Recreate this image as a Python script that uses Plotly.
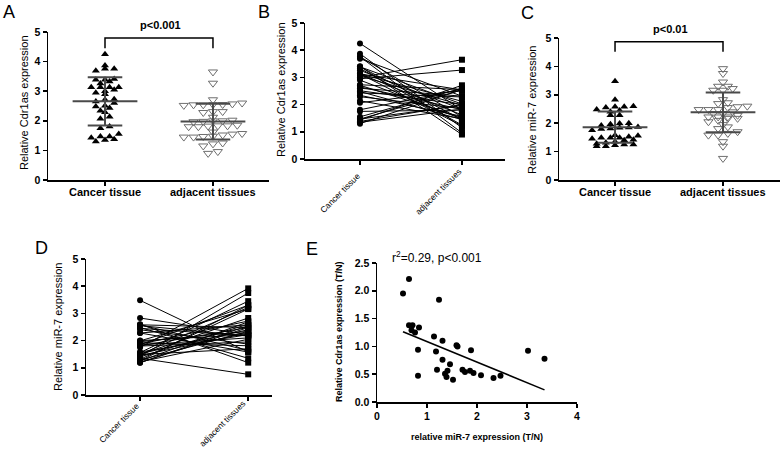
import numpy as np
import plotly.graph_objects as go

W, H = 780, 453

categories = ["Cancer tissue", "adjacent tissues"]

# Cdr1as expression, index-matched pairs (cancer[i] <-> adjacent[i])
cdr1as_cancer = [4.25, 3.87, 3.76, 3.76, 3.69, 3.41, 3.39, 3.39, 3.33, 3.26,
                 3.13, 3.13, 3.13, 3.13, 3.05, 3.00, 2.90, 2.73, 2.71, 2.65,
                 2.51, 2.48, 2.43, 2.34, 2.29, 2.60, 2.14, 2.07, 1.81, 1.75,
                 1.55, 1.47, 1.47, 1.43, 1.38, 1.35, 1.30, 2.95]
cdr1as_adjacent = [1.80, 1.15, 0.96, 1.55, 2.31, 0.90, 1.45, 2.02, 1.25, 1.83,
                   2.54, 1.62, 1.22, 2.12, 1.98, 3.65, 1.47, 2.55, 1.52, 1.82,
                   2.00, 1.45, 2.28, 1.57, 1.85, 2.31, 1.48, 2.52, 2.57, 1.80,
                   2.60, 2.54, 1.97, 2.71, 2.00, 1.83, 2.55, 3.27]

# miR-7 expression, index-matched pairs
mir7_cancer = [3.48, 2.83, 2.60, 2.58, 2.58, 2.48, 2.45, 2.40, 2.28, 2.28,
               1.99, 1.96, 1.92, 1.87, 1.85, 1.84, 1.81, 1.80, 1.75, 1.58,
               1.56, 1.52, 1.49, 1.49, 1.49, 1.45, 1.42, 1.40, 1.35, 1.31,
               1.28, 1.25, 1.25, 1.22, 1.19, 1.19, 2.55, 2.00]
mir7_adjacent = [1.58, 2.22, 1.19, 1.64, 2.48, 1.35, 2.17, 1.87, 2.58, 1.58,
                 3.16, 2.34, 1.81, 2.72, 3.30, 2.10, 2.48, 1.95, 3.92, 2.22,
                 3.45, 2.40, 2.83, 1.70, 3.22, 2.28, 3.75, 2.60, 0.76, 3.16,
                 2.34, 2.69, 3.30, 2.05, 2.48, 2.55, 2.17, 2.22]

# Panel E: T/N ratios
ratio_mir7 = [0.52, 0.64, 1.24, 0.64, 0.71, 0.69, 0.76, 0.84, 1.14, 1.31,
              0.82, 1.18, 1.59, 1.61, 1.88, 1.31, 1.46, 0.82, 1.20, 1.36,
              1.41, 1.39, 1.52, 1.71, 1.76, 1.86, 1.93, 2.08, 2.33, 2.47,
              3.02, 3.35]
ratio_cdr1as = [1.95, 2.21, 1.84, 1.38, 1.38, 1.29, 1.25, 1.34, 1.18, 1.10,
                0.94, 0.91, 1.02, 1.00, 0.93, 0.76, 0.68, 0.47, 0.58, 0.51,
                0.56, 0.45, 0.40, 0.58, 0.54, 0.56, 0.52, 0.48, 0.43, 0.47,
                0.92, 0.78]

expr_ticks = [0, 1, 2, 3, 4, 5]
e_xticks = [0, 1, 2, 3, 4]
e_yticks = [0.0, 0.5, 1.0, 1.5, 2.0, 2.5]

FONT = "Liberation Sans"


def dom_x(a, b):
    return [a / W, b / W]


def dom_y(top, bottom):
    return [1 - bottom / H, 1 - top / H]


def swarm(values, center, bin_h, step):
    v = np.asarray(values, dtype=float)
    bins = np.round(v / bin_h).astype(int)
    x = np.zeros(len(v))
    for b in np.unique(bins):
        idx = np.where(bins == b)[0]
        idx = idx[np.argsort(v[idx])]
        n = len(idx)
        x[idx] = center + (np.arange(n) - (n - 1) / 2) * step
    return x


def mean_sd_lines(values, center, mw=0.3, cw=0.16):
    v = np.asarray(values, dtype=float)
    m, s = v.mean(), v.std(ddof=1)
    xs = [center - mw, center + mw, None,
          center - cw, center + cw, None,
          center - cw, center + cw, None,
          center, center]
    ys = [m, m, None, m + s, m + s, None, m - s, m - s, None, m - s, m + s]
    return xs, ys


def pair_lines(a, b):
    xs, ys = [], []
    for va, vb in zip(a, b):
        xs += [0, 1, None]
        ys += [va, vb, None]
    return xs, ys


fig = go.Figure()

# ---------- Panel A / C: scatter with mean ± SD ----------
for ax, cancer, adj, ymax in [("", cdr1as_cancer, cdr1as_adjacent, 4.8),
                              ("3", mir7_cancer, mir7_adjacent, 4.87)]:
    xa = "x" + ax
    ya = "y" + ax
    fig.add_trace(go.Scatter(
        x=swarm(cancer, 0, 0.15, 0.085), y=cancer, mode="markers",
        marker=dict(symbol="triangle-up", size=7, color="black"),
        xaxis=xa, yaxis=ya, cliponaxis=False, showlegend=False))
    fig.add_trace(go.Scatter(
        x=swarm(adj, 1, 0.15, 0.09), y=adj, mode="markers",
        marker=dict(symbol="triangle-down-open", size=8, color="#6e6e6e",
                    line=dict(width=1, color="#6e6e6e")),
        xaxis=xa, yaxis=ya, cliponaxis=False, showlegend=False))
    for c, vals in [(0, cancer), (1, adj)]:
        xs, ys = mean_sd_lines(vals, c)
        fig.add_trace(go.Scatter(
            x=xs, y=ys, mode="lines", line=dict(color="#4a4a4a", width=2),
            xaxis=xa, yaxis=ya, cliponaxis=False, showlegend=False))
    # significance bracket
    fig.add_trace(go.Scatter(
        x=[0, 0, 1, 1], y=[ymax - 0.35, ymax, ymax, ymax - 0.35],
        mode="lines", line=dict(color="black", width=1.5),
        xaxis=xa, yaxis=ya, cliponaxis=False, showlegend=False))

# ---------- Panel B / D: paired lines ----------
for ax, cancer, adj in [("2", cdr1as_cancer, cdr1as_adjacent),
                        ("4", mir7_cancer, mir7_adjacent)]:
    xa = "x" + ax
    ya = "y" + ax
    xs, ys = pair_lines(cancer, adj)
    fig.add_trace(go.Scatter(
        x=xs, y=ys, mode="lines", line=dict(color="black", width=1),
        xaxis=xa, yaxis=ya, cliponaxis=False, showlegend=False))
    fig.add_trace(go.Scatter(
        x=[0] * len(cancer), y=cancer, mode="markers",
        marker=dict(symbol="circle", size=6, color="black"),
        xaxis=xa, yaxis=ya, cliponaxis=False, showlegend=False))
    fig.add_trace(go.Scatter(
        x=[1] * len(adj), y=adj, mode="markers",
        marker=dict(symbol="square", size=6, color="black"),
        xaxis=xa, yaxis=ya, cliponaxis=False, showlegend=False))

# ---------- Panel E: correlation ----------
ex = np.asarray(ratio_mir7)
ey = np.asarray(ratio_cdr1as)
slope, intercept = np.polyfit(ex, ey, 1)
lx = np.array([ex.min(), ex.max()])
fig.add_trace(go.Scatter(
    x=ex, y=ey, mode="markers",
    marker=dict(symbol="circle", size=6, color="black"),
    xaxis="x5", yaxis="y5", cliponaxis=False, showlegend=False))
fig.add_trace(go.Scatter(
    x=lx, y=slope * lx + intercept, mode="lines",
    line=dict(color="black", width=1.5),
    xaxis="x5", yaxis="y5", cliponaxis=False, showlegend=False))

# ---------- axes ----------
base = dict(showline=True, linecolor="black", linewidth=1.5, ticks="outside",
            ticklen=4, tickwidth=1.5, tickcolor="black", showgrid=False,
            zeroline=False, fixedrange=True, automargin=False)
numfont = dict(family=FONT, size=10.5, color="black", weight="bold")
catx = dict(tickvals=[0, 1], showticklabels=False)

layout = dict(
    width=W, height=H, margin=dict(l=0, r=0, t=0, b=0, pad=0),
    paper_bgcolor="white", plot_bgcolor="white", showlegend=False,
    hovermode=False,
    # A
    xaxis=dict(base, domain=dom_x(48, 269), range=[-0.528, 1.519], anchor="y", **catx),
    yaxis=dict(base, domain=dom_y(32, 180), range=[0, 5], anchor="x",
               tickvals=expr_ticks, tickfont=numfont),
    # B
    xaxis2=dict(base, domain=dom_x(305, 505), range=[-0.539, 1.422], anchor="y2", **catx),
    yaxis2=dict(base, domain=dom_y(23, 159), range=[0, 5], anchor="x2",
                tickvals=expr_ticks, tickfont=numfont),
    # C
    xaxis3=dict(base, domain=dom_x(559, 780), range=[-0.519, 1.528], anchor="y3", **catx),
    yaxis3=dict(base, domain=dom_y(38, 180), range=[0, 5], anchor="x3",
                tickvals=expr_ticks, tickfont=numfont),
    # D
    xaxis4=dict(base, domain=dom_x(86, 272), range=[-0.5, 1.22], anchor="y4", **catx),
    yaxis4=dict(base, domain=dom_y(259, 395), range=[0, 5], anchor="x4",
                tickvals=expr_ticks, tickfont=numfont),
    # E
    xaxis5=dict(base, domain=dom_x(377, 577), range=[0, 4], anchor="y5",
                tickvals=e_xticks, tickfont=numfont),
    yaxis5=dict(base, domain=dom_y(263, 402), range=[0, 2.5], anchor="x5",
                tickvals=e_yticks, tickformat=".1f", tickfont=numfont),
)
fig.update_layout(**layout)


def ann(text, x, y, size, angle=0, bold=False, xanchor="center", yanchor="middle"):
    fig.add_annotation(
        text=text, x=x / W, y=1 - y / H, xref="paper", yref="paper",
        showarrow=False, textangle=angle, xanchor=xanchor, yanchor=yanchor,
        font=dict(family=FONT, size=size, color="black",
                  weight="bold" if bold else "normal"))


# panel letters
for letter, x, y in [("A", 9, 0), ("B", 264, 0), ("C", 527, 1),
                     ("D", 41, 236), ("E", 312, 237)]:
    ann(letter, x, y, 18, yanchor="top")

# category labels (A, C horizontal; B, D rotated)
for xs_, y_ in [((105, 213), 192), ((615, 723), 192)]:
    for cat, xc in zip(categories, xs_):
        ann(cat, xc, y_, 11, bold=True)
for (xc0, yc0), (xc1, yc1) in [((340, 193), (438, 192)), ((119, 423), (222, 424))]:
    ann(categories[0], xc0, yc0, 8.5, angle=-45)
    ann(categories[1], xc1, yc1, 8.5, angle=-45)

# y-axis titles
ann("Relative Cdr1as expression", 24, 103, 11, angle=-90)
ann("Relative Cdr1as expression", 281, 90, 11, angle=-90)
ann("Relative miR-7 expression", 532, 110, 11, angle=-90)
ann("Relative miR-7 expression", 58, 327, 11, angle=-90)
ann("Relative Cdr1as expression (T/N)", 339, 332, 9, angle=-90, bold=True)
ann("relative miR-7 expression (T/N)", 477, 437, 9, bold=True)

# significance labels
ann("p<0.001", 160, 25, 11, bold=True)
ann("p<0.01", 670, 29, 11, bold=True)
ann("r<sup>2</sup>=0.29, p<0.001", 390, 257, 12, xanchor="left")

fig.write_html("out.html",
               config={"displayModeBar": False, "staticPlot": True},
               post_script="document.body.style.margin='0';"
                           "document.body.style.padding='0';")
